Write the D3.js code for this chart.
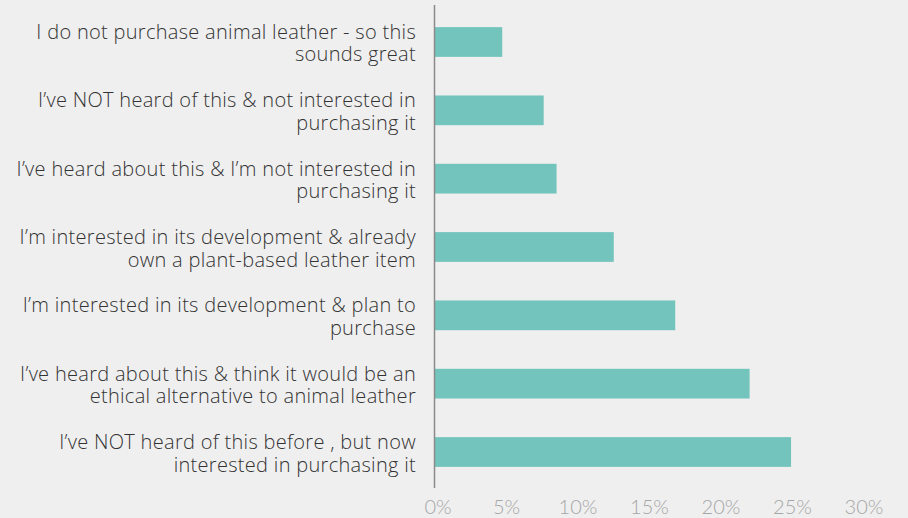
<!DOCTYPE html>
<html>
<head>
<meta charset="utf-8">
<script src="https://cdn.jsdelivr.net/npm/d3@7"></script>
<style>
	body { margin: 0; background: #efefef; }
	svg { display: block; }
	text { font-family: Lato, "Open Sans", sans-serif; font-weight: 300; }
	text.cat { font-family: "Open Sans", Lato, sans-serif; font-weight: 300; letter-spacing: 0.3px; }
</style>
</head>
<body>
<svg id="chart" width="908" height="518"></svg>
<script>
// answers, top to bottom, each split into its two lines
var categories = [
	["I do not purchase animal leather - so this", "sounds great"],
	["I\u2019ve NOT heard of this & not interested in", "purchasing it"],
	["I\u2019ve heard about this & I\u2019m not interested in", "purchasing it"],
	["I\u2019m interested in its development & already", "own a plant-based leather item"],
	["I\u2019m interested in its development & plan to", "purchase"],
	["I\u2019ve heard about this & think it would be an", "ethical alternative to animal leather"],
	["I\u2019ve NOT heard of this before , but now", "interested in purchasing it"]
];
var values = [4.7, 7.6, 8.5, 12.5, 16.8, 22.0, 24.9];
var ticks = [0, 5, 10, 15, 20, 25, 30];

var svg = d3.select("#chart");

var x = d3.scaleLinear().domain([0, 30]).range([435, 864]);
var y = d3.scaleBand()
	.domain(d3.range(categories.length))
	.range([8, 486])
	.paddingInner(0.565)
	.paddingOuter(0.28);

svg.selectAll("rect.bar")
	.data(values)
	.enter()
	.append("rect")
	.attr("class", "bar")
	.attr("x", x(0))
	.attr("y", function(d, i) { return y(i); })
	.attr("width", function(d) { return x(d) - x(0); })
	.attr("height", y.bandwidth())
	.attr("fill", "#72c4bd");

// category axis line
svg.append("line")
	.attr("x1", 434.5).attr("x2", 434.5)
	.attr("y1", 5).attr("y2", 488)
	.attr("stroke", "#8a8a8a")
	.attr("stroke-width", 1.5);

var labels = svg.selectAll("text.cat")
	.data(categories)
	.enter()
	.append("text")
	.attr("class", "cat")
	.attr("text-anchor", "end")
	.attr("font-size", 20)
	.attr("fill", "#333");

// two lines per label, centred on the bar
labels.each(function(d, i) {
	var cy = y(i) + y.bandwidth() / 2;
	d3.select(this).selectAll("tspan")
		.data(d)
		.enter()
		.append("tspan")
		.attr("x", 416)
		.attr("y", function(t, j) { return cy + (j === 0 ? -10 : 12.5); })
		.attr("dy", "0.35em")
		.text(function(t) { return t; });
});

var xAxis = svg.append("g")
	.attr("transform", "translate(0,507)");

xAxis.selectAll("text")
	.data(ticks)
	.enter()
	.append("text")
	.attr("x", function(d) { return x(d) + (d === 0 ? 3 : 0); })
	.attr("dy", "0.35em")
	.attr("text-anchor", "middle")
	.attr("font-size", 20)
	.attr("fill", "#a6a6a6")
	.text(function(d) { return d + "%"; });
</script>
</body>
</html>
